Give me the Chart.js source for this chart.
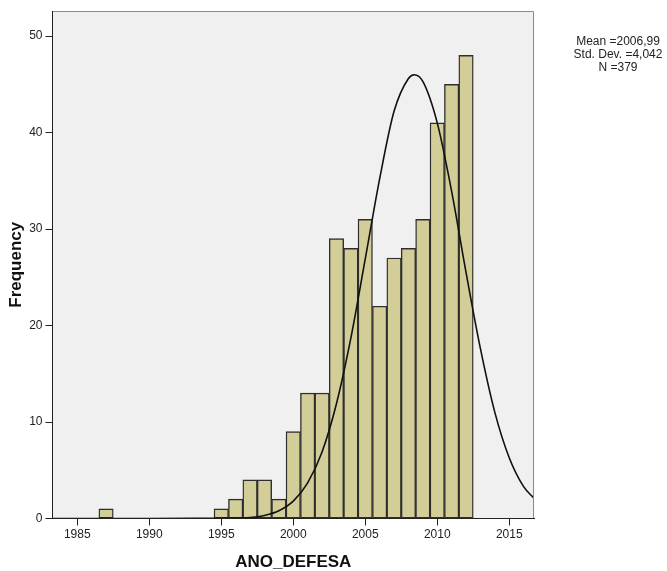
<!DOCTYPE html>
<html>
<head>
<meta charset="utf-8">
<script src="https://cdn.jsdelivr.net/npm/chart.js@4/dist/chart.umd.min.js"></script>
<style>
  html, body { margin: 0; padding: 0; background: #fff; }
  canvas { display: block; }
</style>
</head>
<body>
<canvas id="chartAnoDefesa" width="667" height="571"></canvas>
<script>
// ANO_DEFESA histogram with the normal curve on top.
const years = [1987, 1995, 1996, 1997, 1998, 1999, 2000, 2001, 2002, 2003, 2004, 2005, 2006, 2007, 2008, 2009, 2010, 2011, 2012];
const counts = [1, 1, 2, 4, 4, 2, 9, 13, 13, 29, 28, 31, 22, 27, 28, 31, 41, 45, 48];

// normal curve
const curveYears = [1983.3, 1990, 1994, 1996, 1997, 1998, 1999, 2000, 2001, 2002, 2003, 2004, 2005, 2006, 2007, 2008, 2008.4, 2009, 2010, 2011, 2012, 2013, 2014, 2015, 2016, 2016.72];
const curveValues = [0, 0, 0.02, 0.04, 0.1, 0.32, 0.8, 1.8, 3.7, 6.9, 11.9, 18.7, 26.9, 35.2, 42.2, 45.6, 46, 45.3, 41, 33.9, 25.5, 17.6, 11, 6.3, 3.3, 2.1];

const xTicks = [1985, 1990, 1995, 2000, 2005, 2010, 2015];
const yTicks = [0, 10, 20, 30, 40, 50];
const statsLines = ['Mean =2006,99', 'Std. Dev. =4,042', 'N =379'];

const FONT = 'Arial, "Liberation Sans", sans-serif';
Chart.defaults.font.family = FONT;

const plotFrame = {
  id: 'plotFrame',
  beforeDraw(chart) {
    const { ctx, chartArea: a } = chart;
    ctx.save();
    ctx.fillStyle = '#f0f0f0';
    ctx.fillRect(a.left, a.top, a.right - a.left, a.bottom - a.top);
    ctx.restore();
  },
  afterDatasetsDraw(chart) {
    const { ctx, chartArea: a } = chart;
    ctx.save();
    ctx.lineWidth = 1;
    ctx.strokeStyle = '#8a8a8a';
    ctx.beginPath();
    ctx.moveTo(a.left, a.top + 0.5);
    ctx.lineTo(a.right - 0.5, a.top + 0.5);
    ctx.lineTo(a.right - 0.5, a.bottom);
    ctx.stroke();
    ctx.strokeStyle = '#222';
    ctx.beginPath();
    ctx.moveTo(a.left, a.top);
    ctx.lineTo(a.left, a.bottom);
    ctx.lineTo(a.right, a.bottom);
    ctx.stroke();
    ctx.restore();
  },
  afterDraw(chart) {
    const { ctx } = chart;
    ctx.save();
    ctx.fillStyle = '#222';
    ctx.font = '12px ' + FONT;
    ctx.textAlign = 'center';
    ctx.textBaseline = 'middle';
    statsLines.forEach((line, i) => {
      ctx.fillText(line, 618, 42 + i * 12.8);
    });
    ctx.restore();
  },
};

const ctx = document.getElementById('chartAnoDefesa').getContext('2d');
new Chart(ctx, {
  type: 'bar',
  data: {
    datasets: [
      {
        type: 'line',
        label: 'Normal',
        data: curveYears.map((x, i) => ({ x, y: curveValues[i] })),
        borderColor: '#111',
        borderWidth: 1.6,
        pointRadius: 0,
        fill: false,
        cubicInterpolationMode: 'monotone',
        order: 0,
      },
      {
        label: 'Frequency',
        data: years.map((x, i) => ({ x, y: counts[i] })),
        backgroundColor: '#d3ce97',
        borderColor: '#2e2e2e',
        borderWidth: 1.4,
        borderSkipped: false,
        barPercentage: 1,
        categoryPercentage: 1,
        order: 1,
      },
    ],
  },
  options: {
    responsive: false,
    animation: false,
    events: [],
    layout: { padding: { top: 11, right: 133, bottom: 0, left: 0 } },
    plugins: {
      legend: { display: false },
      tooltip: { enabled: false },
    },
    scales: {
      x: {
        type: 'linear',
        min: 1983.28,
        max: 2016.72,
        offset: false,
        afterBuildTicks: (scale) => { scale.ticks = xTicks.map((value) => ({ value })); },
        afterFit: (scale) => { scale.height = 52.5; },
        grid: { display: true, offset: false, drawOnChartArea: false, tickLength: 7, color: '#222' },
        border: { display: true, color: '#222' },
        ticks: { color: '#222', font: { size: 12 }, padding: 2, maxRotation: 0, autoSkip: false, callback: (v) => String(v) },
        title: {
          display: true,
          text: 'ANO_DEFESA',
          color: '#111',
          font: { size: 17, weight: 'bold', lineHeight: 1 },
          padding: { top: 0, bottom: 0 },
        },
      },
      y: {
        min: 0,
        max: 52.6,
        afterBuildTicks: (scale) => { scale.ticks = yTicks.map((value) => ({ value })); },
        afterFit: (scale) => { scale.width = 52.5; },
        grid: { display: true, drawOnChartArea: false, tickLength: 7, color: '#222' },
        border: { display: true, color: '#222' },
        ticks: { color: '#222', font: { size: 12 }, padding: 3 },
        title: {
          display: true,
          text: 'Frequency',
          color: '#111',
          font: { size: 17, weight: 'bold', lineHeight: 1 },
          padding: { top: 8, bottom: 0 },
        },
      },
    },
  },
  plugins: [plotFrame],
});
</script>
</body>
</html>
